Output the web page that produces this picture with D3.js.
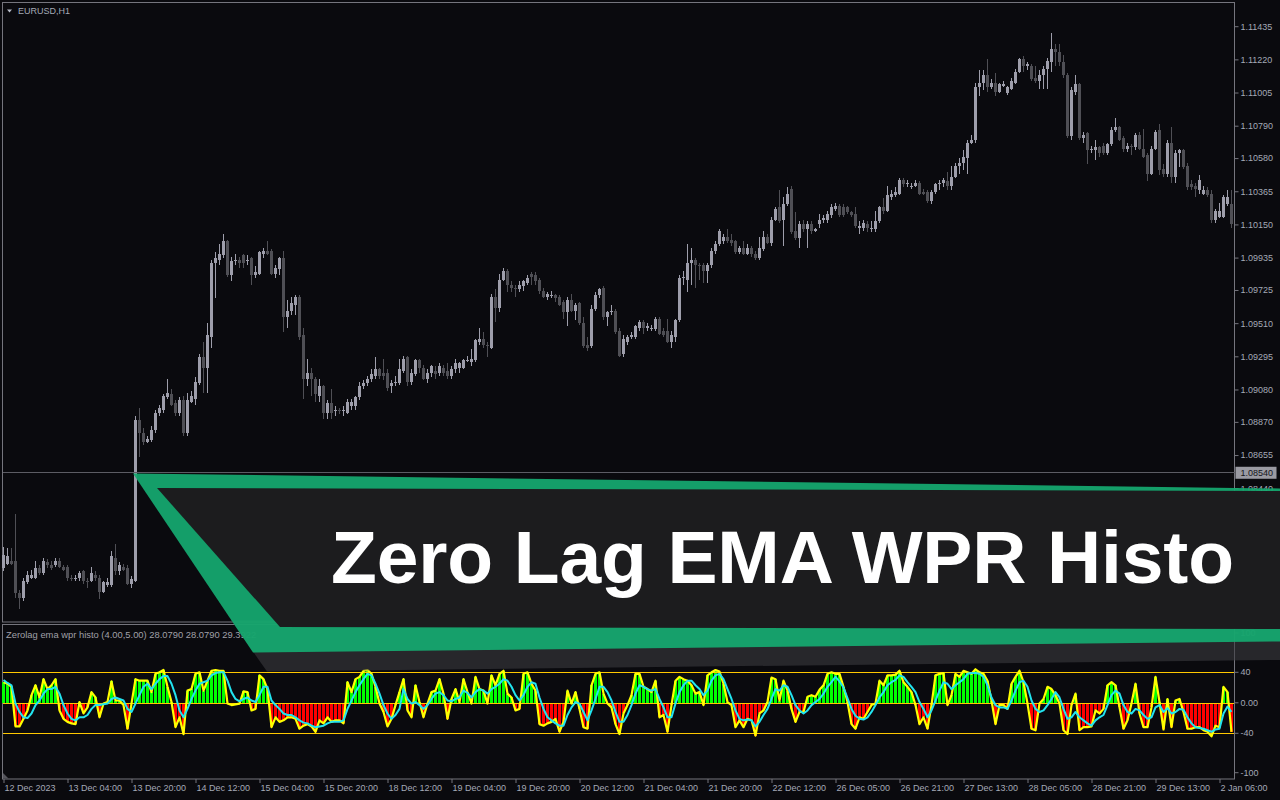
<!DOCTYPE html>
<html><head><meta charset="utf-8">
<script src="https://cdn.jsdelivr.net/npm/d3@7/dist/d3.min.js"></script>
<style>html,body{margin:0;padding:0;background:#0a0a0e;overflow:hidden}svg{display:block}</style>
</head><body>
<svg id="c" width="1280" height="800"></svg>
<script>
// ---------- DATA ----------
const symbolLabel = "EURUSD,H1";
const legendLabel = "Zerolag ema wpr histo (4.00,5.00) 28.0790 28.0790 29.3922";
const bannerTitle = "Zero Lag EMA WPR Histo";
const currentPrice = 1.08540;
const priceTicks = [1.11435,1.11220,1.11005,1.10790,1.10580,1.10365,1.10150,1.09935,1.09725,1.09510,1.09295,1.09080,1.08870,1.08655,1.08440];
const timeLabels = ["12 Dec 2023","13 Dec 04:00","13 Dec 20:00","14 Dec 12:00","15 Dec 04:00","15 Dec 20:00","18 Dec 12:00","19 Dec 04:00","19 Dec 20:00","20 Dec 12:00","21 Dec 04:00","21 Dec 20:00","22 Dec 12:00","26 Dec 05:00","26 Dec 21:00","27 Dec 13:00","28 Dec 05:00","28 Dec 21:00","29 Dec 13:00","2 Jan 06:00"];
const timeLabelBars = [0,16,32,48,64,80,96,112,128,144,160,176,192,208,224,240,256,272,288,304];
const levelValues = [40, 0, -40];
const indicatorTickValues = [100, 40, 0, -40, -100];
const indicatorTickLabels = ["100","40","0.00","-40","-100"];

const openP = [
1.0792,1.0795,1.0797,1.0797,1.0776,1.0773,1.0783,1.0786,1.0786,1.0792,
1.0789,1.0796,1.0794,1.0794,1.0797,1.0793,1.0793,1.0786,1.0785,1.0786,
1.0790,1.0784,1.0784,1.0788,1.0786,1.0777,1.0781,1.0781,1.0799,1.0790,
1.0793,1.0792,1.0782,1.0784,1.0888,1.0880,1.0874,1.0875,1.0882,1.0893,
1.0895,1.0903,1.0905,1.0899,1.0893,1.0901,1.0880,1.0900,1.0902,1.0912,
1.0929,1.0922,1.0942,1.0990,1.0992,1.0995,1.1004,1.0982,1.0991,1.0992,
1.0995,1.0991,1.0993,1.0982,1.0983,1.0996,1.0998,1.0998,1.0983,1.0986,
1.0993,1.0955,1.0959,1.0963,1.0968,1.0943,1.0915,1.0919,1.0915,1.0904,
1.0910,1.0893,1.0899,1.0894,1.0895,1.0894,1.0893,1.0897,1.0897,1.0903,
1.0910,1.0912,1.0915,1.0917,1.0921,1.0919,1.0919,1.0910,1.0912,1.0912,
1.0920,1.0929,1.0913,1.0918,1.0927,1.0922,1.0915,1.0919,1.0920,1.0919,
1.0922,1.0920,1.0917,1.0921,1.0922,1.0922,1.0927,1.0926,1.0927,1.0939,
1.0941,1.0937,1.0935,1.0968,1.0961,1.0979,1.0985,1.0976,1.0974,1.0973,
1.0975,1.0977,1.0983,1.0982,1.0979,1.0972,1.0968,1.0969,1.0969,1.0968,
1.0965,1.0958,1.0966,1.0959,1.0964,1.0951,1.0937,1.0936,1.0960,1.0969,
1.0974,1.0955,1.0958,1.0959,1.0946,1.0931,1.0939,1.0942,1.0942,1.0948,
1.0952,1.0948,1.0947,1.0947,1.0954,1.0946,1.0946,1.0939,1.0942,1.0953,
1.0980,1.0979,1.0990,1.0992,1.0989,1.0989,1.0985,1.0989,1.0998,1.1002,
1.1004,1.1007,1.1005,1.1004,1.0997,1.1000,1.0996,1.1000,1.0996,1.0993,
1.0999,1.1007,1.1003,1.1018,1.1026,1.1018,1.1028,1.1038,1.1011,1.1006,
1.1015,1.1012,1.1015,1.1011,1.1015,1.1018,1.1018,1.1021,1.1025,1.1027,
1.1026,1.1026,1.1023,1.1022,1.1013,1.1013,1.1015,1.1012,1.1012,1.1017,
1.1026,1.1024,1.1033,1.1034,1.1035,1.1044,1.1041,1.1040,1.1040,1.1042,
1.1036,1.1036,1.1030,1.1036,1.1041,1.1042,1.1043,1.1040,1.1046,1.1053,
1.1055,1.1058,1.1068,1.1070,1.1104,1.1107,1.1112,1.1104,1.1107,1.1101,
1.1105,1.1100,1.1103,1.1107,1.1114,1.1122,1.1118,1.1118,1.1110,1.1108,
1.1112,1.1116,1.1120,1.1129,1.1127,1.1120,1.1112,1.1072,1.1101,1.1106,
1.1071,1.1074,1.1063,1.1063,1.1065,1.1066,1.1061,1.1067,1.1076,1.1078,
1.1071,1.1064,1.1066,1.1065,1.1073,1.1064,1.1060,1.1048,1.1064,1.1076,
1.1051,1.1048,1.1068,1.1046,1.1061,1.1063,1.1053,1.1041,1.1040,1.1037,
1.1035,1.1037,1.1035,1.1018,1.1020,1.1020,1.1028,1.1028];
const highP = [
1.0806,1.0805,1.0805,1.0827,1.0778,1.0786,1.0790,1.0791,1.0797,1.0794,
1.0799,1.0798,1.0797,1.0799,1.0799,1.0794,1.0794,1.0788,1.0788,1.0790,
1.0791,1.0786,1.0793,1.0790,1.0788,1.0784,1.0786,1.0803,1.0808,1.0796,
1.0795,1.0794,1.0787,1.0891,1.0896,1.0883,1.0878,1.0884,1.0895,1.0898,
1.0905,1.0915,1.0908,1.0901,1.0903,1.0904,1.0906,1.0907,1.0916,1.0931,
1.0939,1.0951,1.0992,1.0997,1.1002,1.1009,1.1005,1.0994,1.0996,1.0994,
1.0996,1.0995,1.0994,1.0988,1.0998,1.1000,1.1004,1.0999,1.0989,1.0994,
1.0998,1.0966,1.0968,1.0969,1.0969,1.0948,1.0928,1.0922,1.0916,1.0915,
1.0911,1.0901,1.0908,1.0897,1.0896,1.0897,1.0902,1.0902,1.0904,1.0913,
1.0914,1.0917,1.0921,1.0929,1.0922,1.0928,1.0921,1.0914,1.0917,1.0928,
1.0930,1.0930,1.0921,1.0928,1.0928,1.0924,1.0921,1.0924,1.0923,1.0925,
1.0924,1.0925,1.0923,1.0928,1.0926,1.0928,1.0930,1.0934,1.0941,1.0948,
1.0945,1.0939,1.0970,1.0973,1.0983,1.0987,1.0986,1.0978,1.0976,1.0978,
1.0979,1.0982,1.0984,1.0984,1.0980,1.0974,1.0971,1.0972,1.0970,1.0969,
1.0966,1.0968,1.0970,1.0964,1.0965,1.0955,1.0942,1.0963,1.0971,1.0974,
1.0975,1.0959,1.0963,1.0960,1.0948,1.0943,1.0943,1.0945,1.0950,1.0953,
1.0953,1.0951,1.0950,1.0955,1.0955,1.0948,1.0954,1.0946,1.0954,1.0982,
1.0985,1.1002,1.1000,1.0993,1.0990,1.0990,1.0990,1.1000,1.1004,1.1012,
1.1009,1.1012,1.1009,1.1005,1.1001,1.1004,1.1002,1.1001,1.0998,1.1007,
1.1011,1.1009,1.1020,1.1026,1.1037,1.1033,1.1039,1.1040,1.1023,1.1017,
1.1018,1.1017,1.1017,1.1013,1.1022,1.1021,1.1024,1.1028,1.1029,1.1028,
1.1028,1.1027,1.1024,1.1026,1.1017,1.1018,1.1017,1.1017,1.1024,1.1027,
1.1032,1.1040,1.1037,1.1039,1.1045,1.1045,1.1044,1.1042,1.1044,1.1043,
1.1038,1.1037,1.1037,1.1042,1.1044,1.1045,1.1049,1.1053,1.1055,1.1058,
1.1063,1.1070,1.1073,1.1107,1.1115,1.1115,1.1122,1.1109,1.1113,1.1107,
1.1108,1.1105,1.1110,1.1116,1.1123,1.1124,1.1120,1.1119,1.1118,1.1115,
1.1118,1.1123,1.1139,1.1132,1.1132,1.1125,1.1113,1.1104,1.1112,1.1107,
1.1075,1.1075,1.1066,1.1070,1.1066,1.1068,1.1068,1.1078,1.1084,1.1079,
1.1072,1.1068,1.1067,1.1074,1.1075,1.1077,1.1061,1.1066,1.1076,1.1080,
1.1054,1.1070,1.1078,1.1063,1.1064,1.1064,1.1055,1.1044,1.1042,1.1047,
1.1040,1.1039,1.1037,1.1025,1.1029,1.1034,1.1037,1.1037];
const lowP = [
1.0790,1.0794,1.0794,1.0773,1.0766,1.0771,1.0782,1.0785,1.0785,1.0788,
1.0788,1.0792,1.0791,1.0793,1.0792,1.0790,1.0784,1.0784,1.0784,1.0784,
1.0782,1.0779,1.0783,1.0784,1.0772,1.0776,1.0780,1.0780,1.0788,1.0788,
1.0790,1.0781,1.0779,1.0783,1.0864,1.0872,1.0873,1.0874,1.0880,1.0891,
1.0893,1.0902,1.0897,1.0891,1.0891,1.0878,1.0878,1.0899,1.0898,1.0911,
1.0906,1.0906,1.0935,1.0967,1.0989,1.0993,1.0981,1.0978,1.0989,1.0987,
1.0987,1.0989,1.0976,1.0980,1.0982,1.0993,1.0995,1.0982,1.0980,1.0982,
1.0945,1.0948,1.0956,1.0956,1.0940,1.0902,1.0910,1.0904,1.0900,1.0900,
1.0889,1.0889,1.0889,1.0891,1.0892,1.0891,1.0892,1.0895,1.0895,1.0901,
1.0908,1.0910,1.0913,1.0915,1.0915,1.0914,1.0907,1.0906,1.0910,1.0911,
1.0919,1.0910,1.0911,1.0917,1.0919,1.0914,1.0912,1.0916,1.0915,1.0917,
1.0917,1.0915,1.0915,1.0919,1.0919,1.0921,1.0926,1.0923,1.0926,1.0937,
1.0935,1.0929,1.0934,1.0952,1.0958,1.0978,1.0971,1.0971,1.0968,1.0971,
1.0972,1.0976,1.0976,1.0976,1.0970,1.0967,1.0966,1.0967,1.0965,1.0962,
1.0954,1.0949,1.0958,1.0953,1.0950,1.0935,1.0933,1.0935,1.0959,1.0967,
1.0953,1.0949,1.0956,1.0944,1.0929,1.0929,1.0937,1.0941,1.0941,1.0946,
1.0944,1.0946,1.0946,1.0946,1.0943,1.0942,1.0938,1.0935,1.0939,1.0952,
1.0976,1.0971,1.0976,1.0974,1.0979,1.0977,1.0977,1.0987,1.0996,1.1001,
1.1002,1.1003,1.1001,1.0996,1.0996,1.0995,1.0995,1.0994,1.0992,1.0992,
1.0998,1.1002,1.1001,1.1017,1.1016,1.1001,1.1027,1.1009,1.1005,1.1000,
1.1010,1.1000,1.1009,1.1010,1.1013,1.1016,1.1016,1.1019,1.1024,1.1020,
1.1020,1.1022,1.1020,1.1013,1.1009,1.1011,1.1010,1.1010,1.1010,1.1016,
1.1022,1.1023,1.1031,1.1033,1.1034,1.1039,1.1039,1.1038,1.1039,1.1034,
1.1034,1.1029,1.1028,1.1035,1.1037,1.1039,1.1037,1.1037,1.1045,1.1048,
1.1050,1.1048,1.1067,1.1068,1.1098,1.1102,1.1101,1.1103,1.1098,1.1100,
1.1104,1.1099,1.1102,1.1106,1.1113,1.1114,1.1115,1.1108,1.1107,1.1103,
1.1103,1.1103,1.1114,1.1118,1.1118,1.1110,1.1071,1.1070,1.1099,1.1070,
1.1068,1.1054,1.1061,1.1057,1.1059,1.1060,1.1060,1.1066,1.1075,1.1069,
1.1062,1.1062,1.1060,1.1063,1.1063,1.1058,1.1043,1.1047,1.1063,1.1047,
1.1046,1.1046,1.1042,1.1042,1.1052,1.1051,1.1037,1.1037,1.1033,1.1035,
1.1034,1.1033,1.1016,1.1016,1.1019,1.1019,1.1027,1.1013];
const closeP = [
1.0801,1.0800,1.0795,1.0776,1.0773,1.0784,1.0788,1.0788,1.0792,1.0789,
1.0797,1.0794,1.0792,1.0797,1.0793,1.0791,1.0786,1.0785,1.0786,1.0789,
1.0784,1.0783,1.0789,1.0786,1.0777,1.0783,1.0783,1.0800,1.0790,1.0794,
1.0791,1.0782,1.0785,1.0888,1.0880,1.0874,1.0876,1.0882,1.0893,1.0896,
1.0904,1.0906,1.0898,1.0893,1.0901,1.0880,1.0901,1.0904,1.0913,1.0929,
1.0922,1.0943,1.0990,1.0993,1.0996,1.1004,1.0982,1.0991,1.0992,1.0990,
1.0990,1.0992,1.0982,1.0984,1.0997,1.0998,1.0996,1.0983,1.0987,1.0993,
1.0955,1.0959,1.0964,1.0968,1.0942,1.0915,1.0919,1.0915,1.0905,1.0910,
1.0893,1.0899,1.0893,1.0895,1.0894,1.0895,1.0900,1.0900,1.0903,1.0910,
1.0912,1.0915,1.0918,1.0921,1.0917,1.0917,1.0909,1.0912,1.0913,1.0921,
1.0928,1.0913,1.0919,1.0927,1.0922,1.0915,1.0919,1.0923,1.0918,1.0923,
1.0919,1.0917,1.0921,1.0925,1.0925,1.0927,1.0927,1.0928,1.0940,1.0941,
1.0937,1.0936,1.0968,1.0961,1.0979,1.0985,1.0976,1.0974,1.0973,1.0976,
1.0978,1.0980,1.0981,1.0978,1.0972,1.0968,1.0970,1.0969,1.0967,1.0963,
1.0958,1.0966,1.0959,1.0963,1.0951,1.0936,1.0935,1.0960,1.0969,1.0973,
1.0955,1.0958,1.0959,1.0945,1.0930,1.0941,1.0942,1.0943,1.0949,1.0952,
1.0948,1.0949,1.0948,1.0954,1.0944,1.0943,1.0939,1.0943,1.0953,1.0980,
1.0981,1.0990,1.0992,1.0989,1.0988,1.0985,1.0989,1.0998,1.1002,1.1011,
1.1007,1.1004,1.1003,1.0997,1.1000,1.0996,1.1000,1.0996,1.0993,1.1000,
1.1007,1.1003,1.1018,1.1025,1.1017,1.1028,1.1035,1.1010,1.1006,1.1015,
1.1012,1.1015,1.1011,1.1012,1.1018,1.1019,1.1022,1.1026,1.1027,1.1021,
1.1021,1.1023,1.1021,1.1014,1.1014,1.1016,1.1013,1.1013,1.1017,1.1026,
1.1024,1.1034,1.1035,1.1036,1.1044,1.1041,1.1042,1.1040,1.1042,1.1035,
1.1035,1.1030,1.1036,1.1041,1.1042,1.1044,1.1040,1.1046,1.1053,1.1055,
1.1059,1.1068,1.1070,1.1104,1.1107,1.1112,1.1104,1.1107,1.1101,1.1106,
1.1106,1.1104,1.1108,1.1114,1.1122,1.1118,1.1119,1.1109,1.1108,1.1112,
1.1116,1.1121,1.1129,1.1127,1.1120,1.1112,1.1072,1.1102,1.1106,1.1071,
1.1073,1.1063,1.1064,1.1065,1.1061,1.1061,1.1067,1.1076,1.1078,1.1070,
1.1064,1.1066,1.1065,1.1073,1.1064,1.1059,1.1048,1.1064,1.1075,1.1050,
1.1048,1.1068,1.1046,1.1061,1.1063,1.1052,1.1039,1.1039,1.1038,1.1044,
1.1037,1.1034,1.1018,1.1024,1.1024,1.1033,1.1033,1.1015];

const wprMain = [
27,25,21,-31,-31,-21,-10,10,23,7,
31,18,23,31,-10,-21,-25,-27,-28,1,
-14,-6,14,7,-19,-1,1,28,3,3,
-3,-34,-1,31,29,29,29,14,38,40,
43,21,1,-32,-19,-41,16,18,38,40,
16,29,42,43,42,42,-1,-3,-2,-1,
15,14,-10,-8,36,31,18,-32,-19,-25,
-23,-19,-19,-21,-34,-30,-28,-31,-38,-23,
-27,-19,-25,-23,-23,-27,27,14,31,34,
42,43,38,21,-1,-12,-31,-21,-3,14,
31,-10,-19,23,1,-19,-1,14,16,31,
12,-21,5,18,1,31,14,-1,34,18,
16,-1,36,23,38,42,12,7,-10,-8,
38,40,25,16,-28,-30,-27,-25,-21,-38,
-25,16,-1,14,-8,-32,-34,23,38,40,
12,-1,-6,-28,-41,-14,-3,10,38,38,
21,18,14,29,-19,-16,-38,-3,29,34,
31,29,23,12,14,-3,36,40,43,41,
25,1,-3,-32,-23,-32,-21,-23,-43,-14,
-10,1,33,31,3,29,16,-8,-25,-12,
-12,8,10,8,17,23,38,40,38,38,
21,1,-28,-34,-19,-21,-12,-3,-1,29,
23,36,36,37,42,27,21,14,-3,-28,
-19,-34,-3,36,38,39,-3,10,38,34,
42,40,38,44,40,38,29,3,-28,-3,
-3,-8,25,34,42,27,-1,-34,-36,-1,
5,21,18,10,-1,-36,-41,-3,12,-36,
-32,-32,-31,-10,-14,-8,23,27,23,-6,
-34,-23,-1,25,-14,-32,-32,-6,34,1,
-35,5,-32,3,5,-12,-34,-34,-32,-32,
-36,-38,-44,-30,-32,21,14,-38];
const wprSignal = [
30,26,23,-1,-12,-19,-20,-14,-3,3,
12,18,18,21,12,-3,-14,-21,-23,-19,
-19,-16,-8,-3,-3,-2,-1,5,7,5,
3,-8,-12,-1,10,21,25,18,25,31,
35,35,25,10,-10,-19,-8,5,16,25,
27,29,36,39,40,40,29,14,5,2,
5,7,3,1,10,21,21,3,-3,-8,
-14,-16,-16,-19,-23,-26,-27,-30,-32,-31,
-30,-27,-25,-25,-25,-23,-8,3,14,23,
31,38,36,25,12,-3,-14,-21,-16,-8,
18,5,-1,1,-3,-8,-3,5,12,14,
10,3,2,5,7,16,13,7,14,18,
16,12,18,21,25,31,29,21,10,3,
10,21,27,25,7,-8,-19,-23,-27,-30,
-30,-16,-6,1,-1,-12,-23,-10,5,21,
21,14,3,-12,-25,-25,-16,-3,12,23,
21,18,16,18,5,-6,-19,-19,-1,14,
23,29,29,23,18,10,16,29,36,38,
31,18,5,-10,-21,-23,-22,-23,-31,-25,
-16,-8,5,18,16,23,21,10,-3,-10,
-14,-10,-3,1,5,12,21,27,34,28,
20,6,-8,-17,-21,-22,-19,-12,-3,7,
14,23,27,30,36,34,27,21,14,1,
-8,-19,-10,3,16,27,25,18,23,27,
31,38,39,39,38,34,23,7,-3,-6,
-6,-8,3,16,27,29,21,3,-8,-12,
-10,-3,5,14,7,-8,-21,-19,-12,-19,
-23,-27,-30,-23,-19,-16,-3,10,16,12,
-3,-12,-14,-8,-10,-16,-21,-19,-6,-3,
-12,-7,-14,-12,-8,-9,-19,-27,-32,-33,
-34,-36,-38,-35,-34,-14,-5,-12];

// ---------- SETUP ----------
const svg = d3.select("#c");
const FONT = "'Liberation Sans', Arial, sans-serif";
const axisColor = "#a4a9b6";
const frameColor = "#75757d";
svg.append("rect").attr("width",1280).attr("height",800).attr("fill","#0a0a0e");

const nBars = closeP.length;
const x = d3.scaleLinear().domain([0, nBars - 1]).range([3.5, 3.5 + 4 * (nBars - 1)]);
const y = d3.scaleLinear().domain([1.08440, 1.11435]).range([488.2, 26.2]);
const yi = d3.scaleLinear().domain([-40, 40]).range([733.3, 672.3]);

// frames
svg.append("rect").attr("x",2.5).attr("y",2.5).attr("width",1232).attr("height",619.5)
  .attr("fill","none").attr("stroke",frameColor);
svg.append("rect").attr("x",2.5).attr("y",624.5).attr("width",1232).attr("height",154.5)
  .attr("fill","none").attr("stroke",frameColor);

// symbol label
svg.append("path").attr("d","M7,9.5 L12,9.5 L9.5,12.5 Z").attr("fill","#b8bcc8");
svg.append("text").attr("x",18).attr("y",14).attr("font-family",FONT).attr("font-size",9)
  .attr("fill",axisColor).text(symbolLabel);

// ---------- CANDLES ----------
const candles = svg.append("g").attr("shape-rendering","crispEdges");
const bars = d3.range(nBars).map(i => ({i, o: openP[i], h: highP[i], l: lowP[i], c: closeP[i]}));
const bullC = "#9e9eab", bearC = "#4f4f55";
candles.selectAll("line.wick").data(bars).join("line").attr("class","wick")
  .attr("x1", d => x(d.i)).attr("x2", d => x(d.i))
  .attr("y1", d => y(d.h)).attr("y2", d => y(d.l))
  .attr("stroke", d => d.c >= d.o ? bullC : bearC).attr("stroke-width",1);
candles.selectAll("rect.body").data(bars).join("rect").attr("class","body")
  .attr("x", d => x(d.i) - 1.5).attr("width", 3)
  .attr("y", d => y(Math.max(d.o, d.c)))
  .attr("height", d => Math.max(1, Math.abs(y(d.o) - y(d.c))))
  .attr("fill", d => d.c >= d.o ? bullC : bearC);

// current price line
svg.append("line").attr("x1",3).attr("x2",1234.5).attr("y1",y(currentPrice)).attr("y2",y(currentPrice))
  .attr("stroke","#5c5c64").attr("shape-rendering","crispEdges");

// price axis
const pAxis = svg.append("g").attr("transform","translate(1234.5,0)")
  .call(d3.axisRight(y).tickValues(priceTicks).tickFormat(d3.format(".5f")).tickSize(4).tickPadding(2));
pAxis.select(".domain").remove();
pAxis.selectAll("line").attr("stroke",frameColor);
pAxis.selectAll("text").attr("fill",axisColor).attr("font-family",FONT).attr("font-size",9);
// current price label
const cpY = y(currentPrice);
svg.append("rect").attr("x",1235.5).attr("y",cpY-6).attr("width",41).attr("height",12).attr("fill","#9a9aa2");
svg.append("text").attr("x",1240.5).attr("y",cpY).attr("dy","0.33em").attr("font-family",FONT)
  .attr("font-size",9).attr("fill","#15151a").text(d3.format(".5f")(currentPrice));

// ---------- INDICATOR ----------
const ind = svg.append("g");
ind.append("text").attr("x",6).attr("y",638).attr("font-family",FONT).attr("font-size",9.4)
  .attr("fill","#a0a0a8").text(legendLabel);
ind.append("g").attr("shape-rendering","crispEdges").selectAll("rect").data(wprMain).join("rect")
  .attr("x", (d,i) => x(i) - 1.5).attr("width",3)
  .attr("y", d => Math.min(yi(0), yi(d))).attr("height", d => Math.abs(yi(d) - yi(0)))
  .attr("fill", d => d >= 0 ? "#00ff00" : "#ff0000");
ind.selectAll("line.lvl").data(levelValues).join("line").attr("class","lvl")
  .attr("x1",3).attr("x2",1234).attr("y1", d => Math.round(yi(d)) + 0.5).attr("y2", d => Math.round(yi(d)) + 0.5)
  .attr("stroke","#ffc800").attr("stroke-width",1.2);
const lineGen = d3.line().x((d,i) => x(i)).y(d => yi(d));
ind.append("path").attr("d", lineGen(wprMain)).attr("fill","none").attr("stroke","#ffff00")
  .attr("stroke-width",2.2).attr("stroke-linejoin","round");
ind.append("path").attr("d", lineGen(wprSignal)).attr("fill","none").attr("stroke","#22e4f0")
  .attr("stroke-width",2).attr("stroke-linejoin","round");

// indicator axis labels
const indTicks = indicatorTickValues.map((v,k) => ({v, label: indicatorTickLabels[k], py: Math.max(633, Math.min(772.7, yi(v)))}));
ind.selectAll("line.itk").data(indTicks).join("line").attr("class","itk")
  .attr("x1",1234.5).attr("x2",1238.5).attr("y1", d => d.py).attr("y2", d => d.py).attr("stroke",frameColor);
ind.selectAll("text.itl").data(indTicks).join("text").attr("class","itl")
  .attr("x",1240.5).attr("y", d => d.py).attr("dy","0.33em").attr("font-family",FONT).attr("font-size",9)
  .attr("fill",axisColor).text(d => d.label);
ind.append("path").attr("d","M3,773 L3,778.5 L8.5,778.5 Z").attr("fill","#55555c");

// time axis
const tAxis = svg.append("g").attr("transform","translate(0,779)")
  .call(d3.axisBottom(x).tickValues(timeLabelBars).tickFormat((d,k) => timeLabels[k]).tickSize(4).tickPadding(2));
tAxis.select(".domain").remove();
tAxis.selectAll("line").attr("stroke",frameColor);
tAxis.selectAll("text").attr("fill",axisColor).attr("font-family",FONT).attr("font-size",9)
  .attr("text-anchor","start").attr("x",0.5);

// ---------- BANNER ----------
const banner = svg.append("g");
const poly = pts => "M" + pts.map(p => p.join(",")).join("L") + "Z";
banner.append("path").attr("d", poly([[231,620],[1280,620],[1280,660],[267,671.5]]))
  .attr("fill","rgba(58,58,64,0.6)");
banner.append("path").attr("d", poly([[133,473.5],[1280,488.5],[1280,641.5],[253,652.5]]))
  .attr("fill","#16aa70").attr("fill-opacity",0.93);
banner.append("path").attr("d", poly([[157,488],[1280,491],[1280,629],[280,627]]))
  .attr("fill","#1c1c1e");
banner.append("text").attr("x",331).attr("y",583).attr("font-family","'Liberation Sans', Arial, sans-serif")
  .attr("font-weight",700).attr("font-size",75).attr("fill","#ffffff")
  .attr("textLength",903).attr("lengthAdjust","spacing").text(bannerTitle);
</script>
</body></html>
